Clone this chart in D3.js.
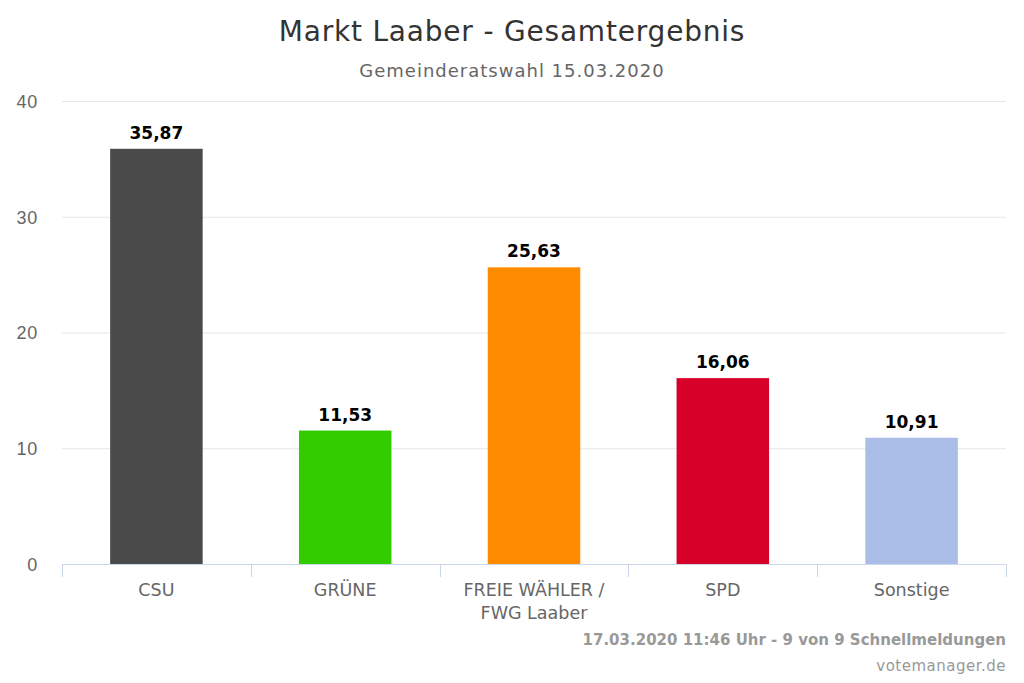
<!DOCTYPE html>
<html lang="de">
<head>
<meta charset="UTF-8">
<title>Markt Laaber - Gesamtergebnis</title>
<script src="https://d3js.org/d3.v7.min.js"></script>
<style>
    body { margin: 0; background: #fff; }
    svg { font-family: "DejaVu Sans", Verdana, sans-serif; display: block; }
    .grid line { stroke: #e6e6e6; }
    .grid path { display: none; }
    .y-axis text { fill: #666; font-size: 18px; letter-spacing: 0.8px; }
    .x-axis text { fill: #666; font-size: 17.5px; }
    .value-label { font-size: 17px; font-weight: bold; fill: #000; }
</style>
</head>
<body>
<svg width="1024" height="683"></svg>
<script>
    // Daten
    const parteien = ["CSU", "GRÜNE", "FREIE WÄHLER / FWG Laaber", "SPD", "Sonstige"];
    const prozent = [35.87, 11.53, 25.63, 16.06, 10.91];
    const farben = ["#4a4a4a", "#33cc00", "#ff8c00", "#d70028", "#aabde6"];
    const yTicks = [0, 10, 20, 30, 40];

    const width = 1024, height = 683;
    const margin = { top: 101, right: 18, bottom: 119, left: 62 };

    const svg = d3.select("svg");

    const x = d3.scaleBand()
        .domain(parteien)
        .range([margin.left, width - margin.right])
        .paddingInner(0.51)
        .paddingOuter(0.255);

    const y = d3.scaleLinear()
        .domain([0, 40])
        .range([height - margin.bottom, margin.top]);

    const fmt = v => d3.format(".2f")(v).replace(".", ",");

    // Titel
    svg.append("text")
        .attr("x", width / 2).attr("y", 41)
        .attr("text-anchor", "middle")
        .attr("fill", "#333")
        .style("font-size", "28px")
        .style("letter-spacing", "0.8px")
        .text("Markt Laaber - Gesamtergebnis");

    svg.append("text")
        .attr("x", width / 2).attr("y", 77)
        .attr("text-anchor", "middle")
        .attr("fill", "#666")
        .style("font-size", "18px")
        .style("letter-spacing", "1px")
        .text("Gemeinderatswahl 15.03.2020");

    // Gitterlinien + y-Achse
    const yAxis = svg.append("g")
        .attr("class", "grid y-axis")
        .attr("transform", `translate(${margin.left},0)`)
        .call(d3.axisLeft(y).tickValues(yTicks)
            .tickSize(-(width - margin.left - margin.right))
            .tickPadding(24));
    yAxis.selectAll("text").attr("dy", "0.35em");
    yAxis.select(".tick:first-of-type line").remove();

    // Balken
    svg.selectAll(".bar")
        .data(parteien)
        .join("rect")
        .attr("class", "bar")
        .attr("x", d => x(d))
        .attr("y", (d, i) => y(prozent[i]))
        .attr("width", x.bandwidth())
        .attr("height", (d, i) => y(0) - y(prozent[i]))
        .attr("fill", (d, i) => farben[i]);

    // Werte
    svg.selectAll(".value-label")
        .data(parteien)
        .join("text")
        .attr("class", "value-label")
        .attr("x", d => x(d) + x.bandwidth() / 2)
        .attr("y", (d, i) => y(prozent[i]) - 10)
        .attr("text-anchor", "middle")
        .text((d, i) => fmt(prozent[i]));

    // x-Achse
    const x0 = y(0);
    const xg = svg.append("g").attr("class", "x-axis");
    xg.append("line")
        .attr("x1", margin.left).attr("x2", width - margin.right)
        .attr("y1", x0 + 0.5).attr("y2", x0 + 0.5)
        .attr("stroke", "#ccd6eb");
    const step = x.step();
    const bounds = d3.range(parteien.length + 1).map(i => margin.left + i * step);
    xg.selectAll(".tk")
        .data(bounds)
        .join("line")
        .attr("x1", d => Math.round(d) + 0.5).attr("x2", d => Math.round(d) + 0.5)
        .attr("y1", x0).attr("y2", x0 + 13)
        .attr("stroke", "#ccd6eb");

    const labelLines = {
        "FREIE WÄHLER / FWG Laaber": ["FREIE WÄHLER /", "FWG Laaber"]
    };
    xg.selectAll(".lbl")
        .data(parteien)
        .join("text")
        .attr("class", "lbl")
        .attr("text-anchor", "middle")
        .attr("x", d => x(d) + x.bandwidth() / 2)
        .attr("y", x0 + 32)
        .each(function (d) {
            const lines = labelLines[d] || [d];
            const t = d3.select(this);
            lines.forEach((l, i) => {
                t.append("tspan")
                    .attr("x", x(d) + x.bandwidth() / 2)
                    .attr("dy", i === 0 ? 0 : 23)
                    .text(l);
            });
        });

    // Credits
    svg.append("text")
        .attr("x", width - margin.right).attr("y", 645)
        .attr("text-anchor", "end")
        .attr("fill", "#999")
        .style("font-size", "15px")
        .style("font-weight", "bold")
        .text("17.03.2020 11:46 Uhr - 9 von 9 Schnellmeldungen");

    svg.append("text")
        .attr("x", width - margin.right).attr("y", 671)
        .attr("text-anchor", "end")
        .attr("fill", "#999")
        .style("font-size", "15px")
        .style("letter-spacing", "0.5px")
        .text("votemanager.de");
</script>
</body>
</html>
